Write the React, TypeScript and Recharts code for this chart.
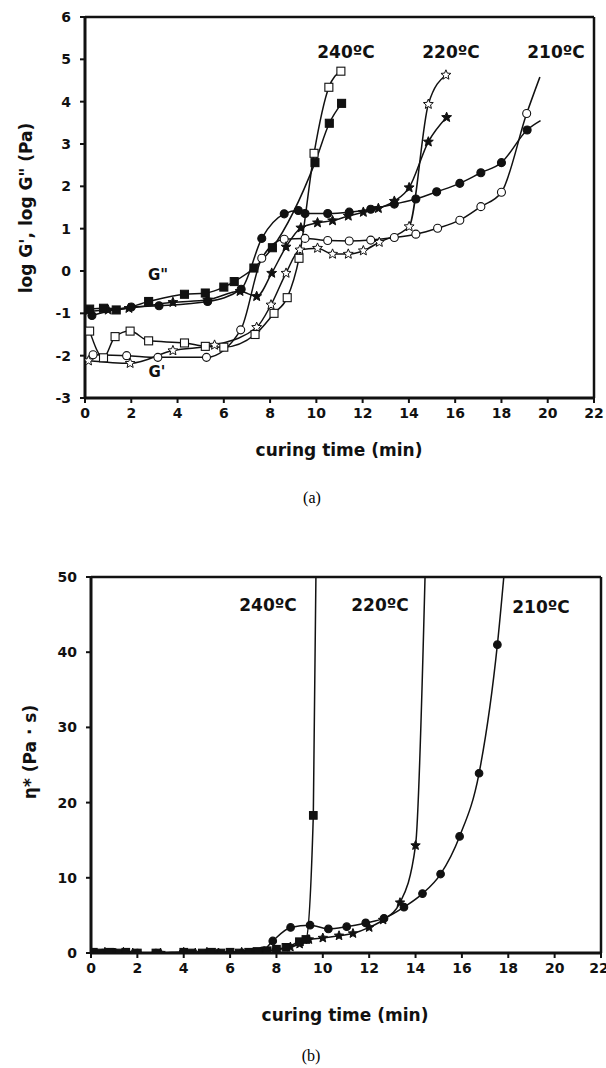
import React from 'react';
import { LineChart, Line, XAxis, YAxis, ReferenceLine } from 'recharts';

// curing time (min) / log modulus (Pa)
const t240Gp = [0.2, 0.8, 1.3, 1.95, 2.75, 4.3, 5.2, 6.0, 7.35, 8.17, 8.74, 9.25, 9.9, 10.54, 11.06];
const v240Gp = [-1.42, -2.05, -1.55, -1.42, -1.65, -1.7, -1.78, -1.8, -1.5, -1.0, -0.63, 0.3, 2.78, 4.34, 4.72];
const t240Gpp = [0.2, 0.8, 1.35, 2.75, 4.3, 5.2, 6.0, 6.45, 7.3, 8.1, 9.94, 10.56, 11.09];
const v240Gpp = [-0.9, -0.88, -0.92, -0.72, -0.55, -0.52, -0.38, -0.25, 0.07, 0.55, 2.56, 3.49, 3.96];

const t220Gp = [0.15, 1.95, 3.8, 5.6, 7.42, 8.04, 8.69, 9.29, 10.05, 10.7, 11.38, 12.03, 12.72, 14.01, 14.84, 15.6];
const v220Gp = [-2.12, -2.18, -1.88, -1.75, -1.33, -0.8, -0.05, 0.5, 0.54, 0.4, 0.4, 0.48, 0.68, 1.05, 3.94, 4.63];
const t220Gpp = [0.1, 1.0, 1.9, 3.8, 5.3, 6.7, 7.42, 8.07, 8.69, 9.33, 10.05, 10.7, 11.38, 12.03, 12.68, 13.37, 14.01, 14.84, 15.63];
const v220Gpp = [-0.95, -0.92, -0.88, -0.74, -0.68, -0.48, -0.6, -0.05, 0.57, 1.02, 1.14, 1.19, 1.3, 1.39, 1.48, 1.65, 1.97, 3.05, 3.63];

const t210Gp = [0.35, 1.8, 3.15, 5.25, 6.73, 7.64, 8.61, 9.51, 10.49, 11.42, 12.35, 13.37, 14.3, 15.24, 16.2, 17.11, 18.0, 19.09, 19.66];
const v210Gp = [-1.98, -2.0, -2.04, -2.04, -1.39, 0.3, 0.75, 0.77, 0.72, 0.71, 0.73, 0.79, 0.87, 1.01, 1.2, 1.52, 1.86, 3.72, 4.58];
const t210Gpp = [0.3, 2.0, 3.2, 5.3, 6.75, 7.64, 8.61, 9.22, 9.51, 10.49, 11.42, 12.35, 13.37, 14.3, 15.2, 16.2, 17.11, 18.0, 19.11, 19.69];
const v210Gpp = [-1.05, -0.85, -0.82, -0.72, -0.43, 0.77, 1.35, 1.43, 1.36, 1.36, 1.39, 1.46, 1.58, 1.7, 1.87, 2.07, 2.32, 2.56, 3.33, 3.55];

// complex viscosity (Pa·s)
const tEta240 = [0.1, 0.4, 0.8, 1.2, 1.5, 2.0, 2.8, 4.0, 4.3, 4.8, 5.2, 5.6, 6.0, 6.4, 6.8, 7.2, 7.6, 8.0, 8.41, 8.99, 9.27, 9.59, 9.72];
const vEta240 = [0.1, 0.0, 0.1, 0.0, 0.1, 0.0, 0.0, 0.1, 0.0, 0.0, 0.1, 0.0, 0.1, 0.0, 0.1, 0.2, 0.3, 0.5, 0.75, 1.5, 1.8, 18.3, 55];
const tEta220 = [0.2, 0.6, 1.0, 1.4, 1.8, 3.0, 4.0, 4.5, 5.0, 5.5, 6.0, 6.5, 7.0, 7.5, 8.0, 8.6, 9.0, 9.4, 10.0, 10.7, 11.3, 12.0, 12.6, 13.33, 14.0, 14.45];
const vEta220 = [0.0, 0.1, 0.0, 0.1, 0.0, 0.0, 0.1, 0.0, 0.1, 0.0, 0.0, 0.1, 0.1, 0.2, 0.4, 0.8, 1.2, 1.8, 2.0, 2.3, 2.6, 3.4, 4.4, 6.7, 14.3, 55];
const tEta210 = [0.0, 0.5, 1.0, 1.5, 2.0, 2.8, 4.0, 5.0, 5.5, 6.0, 6.5, 7.0, 7.4, 7.84, 8.61, 9.45, 10.24, 11.03, 11.85, 12.64, 13.5, 14.3, 15.08, 15.9, 16.74, 17.53, 17.95];
const vEta210 = [0.0, 0.0, 0.1, 0.0, 0.0, 0.0, 0.0, 0.0, 0.0, 0.0, 0.0, 0.1, 0.3, 1.6, 3.4, 3.7, 3.2, 3.5, 4.0, 4.6, 6.1, 7.9, 10.5, 15.5, 23.9, 41.0, 55];

const xTicks = [0, 2, 4, 6, 8, 10, 12, 14, 16, 18, 20, 22];
const logTicks = [-3, -2, -1, 0, 1, 2, 3, 4, 5, 6];
const etaTicks = [0, 10, 20, 30, 40, 50];
const tempLabels = ['240ºC', '220ºC', '210ºC'];

type Pt = { t: number; v: number };
const zip = (ts: number[], vs: number[]): Pt[] => ts.map((t, i) => ({ t, v: vs[i] }));

type Shape = 'square' | 'star' | 'circle';

function Marker({ cx, cy, shape, filled, r }: { cx: number; cy: number; shape: Shape; filled: boolean; r: number }) {
    const fill = filled ? '#111' : '#fff';
    if (shape === 'circle') return <circle cx={cx} cy={cy} r={r} fill={fill} stroke="#111" strokeWidth={1.1} />;
    if (shape === 'square')
        return <rect x={cx - r} y={cy - r} width={2 * r} height={2 * r} fill={fill} stroke="#111" strokeWidth={1.1} />;
    const pts: string[] = [];
    for (let i = 0; i < 10; i++) {
        const a = -Math.PI / 2 + (i * Math.PI) / 5;
        const rr = i % 2 === 0 ? r * 1.3 : r * 0.58;
        pts.push(`${cx + rr * Math.cos(a)},${cy + rr * Math.sin(a)}`);
    }
    return <polygon points={pts.join(' ')} fill={fill} stroke="#111" strokeWidth={1} />;
}

type Series = { key: string; data: Pt[]; shape: Shape; filled: boolean; bareEnd?: boolean };

const topSeries: Series[] = [
    { key: 'g1', data: zip(t210Gp, v210Gp), shape: 'circle', filled: false, bareEnd: true },
    { key: 'g2', data: zip(t210Gpp, v210Gpp), shape: 'circle', filled: true, bareEnd: true },
    { key: 'g3', data: zip(t220Gp, v220Gp), shape: 'star', filled: false },
    { key: 'g4', data: zip(t220Gpp, v220Gpp), shape: 'star', filled: true },
    { key: 'g5', data: zip(t240Gp, v240Gp), shape: 'square', filled: false },
    { key: 'g6', data: zip(t240Gpp, v240Gpp), shape: 'square', filled: true },
];

const bottomSeries: Series[] = [
    { key: 'e1', data: zip(tEta210, vEta210), shape: 'circle', filled: true },
    { key: 'e2', data: zip(tEta220, vEta220), shape: 'star', filled: true },
    { key: 'e3', data: zip(tEta240, vEta240), shape: 'square', filled: true },
];

const tickStyle = { fill: '#111', fontSize: 14, fontWeight: 700, fontFamily: 'DejaVu Sans' };
const boldText: React.CSSProperties = {
    position: 'absolute',
    fontFamily: 'DejaVu Sans',
    fontWeight: 700,
    color: '#111',
    whiteSpace: 'nowrap',
    transform: 'translate(-50%, -50%)',
};

function renderLines(series: Series[], yMax: number, r: number) {
    return series.map(s => (
        <Line
            key={s.key}
            data={s.data}
            dataKey="v"
            type="monotone"
            stroke="#111"
            strokeWidth={1.5}
            isAnimationActive={false}
            dot={(p: any) => {
                const hide = (s.bareEnd && p.index === s.data.length - 1) || p.payload.v > yMax || p.cx == null;
                if (hide) return <g key={`${s.key}-${p.index}`} />;
                return <Marker key={`${s.key}-${p.index}`} cx={p.cx} cy={p.cy} shape={s.shape} filled={s.filled} r={r} />;
            }}
        />
    ));
}

function Panel({ series, yDomain, yTicks, width, height, margin, r }: any) {
    return (
        <LineChart width={width} height={height} margin={margin}>
            <XAxis
                dataKey="t"
                type="number"
                domain={[0, 22]}
                ticks={xTicks}
                allowDataOverflow
                tick={tickStyle}
                tickSize={5}
                tickMargin={5}
                height={30}
                axisLine={{ stroke: '#111', strokeWidth: 3 }}
                tickLine={{ stroke: '#111', strokeWidth: 2 }}
            />
            <YAxis
                type="number"
                domain={yDomain}
                ticks={yTicks}
                allowDataOverflow
                tick={tickStyle}
                tickSize={5}
                tickMargin={9}
                width={45}
                axisLine={{ stroke: '#111', strokeWidth: 3 }}
                tickLine={{ stroke: '#111', strokeWidth: 2 }}
            />
            <ReferenceLine y={yDomain[1]} stroke="#111" strokeWidth={2.5} />
            <ReferenceLine x={22} stroke="#111" strokeWidth={2.5} />
            {renderLines(series, yDomain[1], r)}
        </LineChart>
    );
}

export default function App() {
    return (
        <div style={{ position: 'absolute', left: 0, top: 0, width: 606, height: 1068, background: '#fff' }}>
            <div style={{ position: 'absolute', left: 0, top: 0 }}>
                <Panel
                    series={topSeries}
                    yDomain={[-3, 6]}
                    yTicks={logTicks}
                    width={606}
                    height={430}
                    margin={{ top: 17, right: 12, bottom: 2, left: 40 }}
                    r={4}
                />
            </div>
            <div style={{ position: 'absolute', left: 0, top: 560 }}>
                <Panel
                    series={bottomSeries}
                    yDomain={[0, 50]}
                    yTicks={etaTicks}
                    width={606}
                    height={425}
                    margin={{ top: 17, right: 5, bottom: 2, left: 46 }}
                    r={3.8}
                />
            </div>

            {/* panel (a) text */}
            <div style={{ ...boldText, left: 346, top: 52, fontSize: 17 }}>{tempLabels[0]}</div>
            <div style={{ ...boldText, left: 451, top: 52, fontSize: 17 }}>{tempLabels[1]}</div>
            <div style={{ ...boldText, left: 556, top: 52, fontSize: 17 }}>{tempLabels[2]}</div>
            <div style={{ ...boldText, left: 158, top: 275, fontSize: 15 }}>G"</div>
            <div style={{ ...boldText, left: 157, top: 372, fontSize: 15 }}>G'</div>
            <div style={{ ...boldText, left: 339, top: 450, fontSize: 17 }}>curing time (min)</div>
            <div style={{ ...boldText, left: 26, top: 208, fontSize: 17, transform: 'translate(-50%, -50%) rotate(-90deg)' }}>
                log G', log G" (Pa)
            </div>
            <div style={{ position: 'absolute', left: 312, top: 498, transform: 'translate(-50%, -50%)', fontFamily: 'Liberation Serif', fontSize: 16 }}>
                (a)
            </div>

            {/* panel (b) text */}
            <div style={{ ...boldText, left: 268, top: 605, fontSize: 17 }}>{tempLabels[0]}</div>
            <div style={{ ...boldText, left: 380, top: 605, fontSize: 17 }}>{tempLabels[1]}</div>
            <div style={{ ...boldText, left: 541, top: 607, fontSize: 17 }}>{tempLabels[2]}</div>
            <div style={{ ...boldText, left: 345, top: 1015, fontSize: 17 }}>curing time (min)</div>
            <div style={{ ...boldText, left: 30, top: 752, fontSize: 17, transform: 'translate(-50%, -50%) rotate(-90deg)' }}>
                η* (Pa · s)
            </div>
            <div style={{ position: 'absolute', left: 311, top: 1056, transform: 'translate(-50%, -50%)', fontFamily: 'Liberation Serif', fontSize: 16 }}>
                (b)
            </div>
        </div>
    );
}
